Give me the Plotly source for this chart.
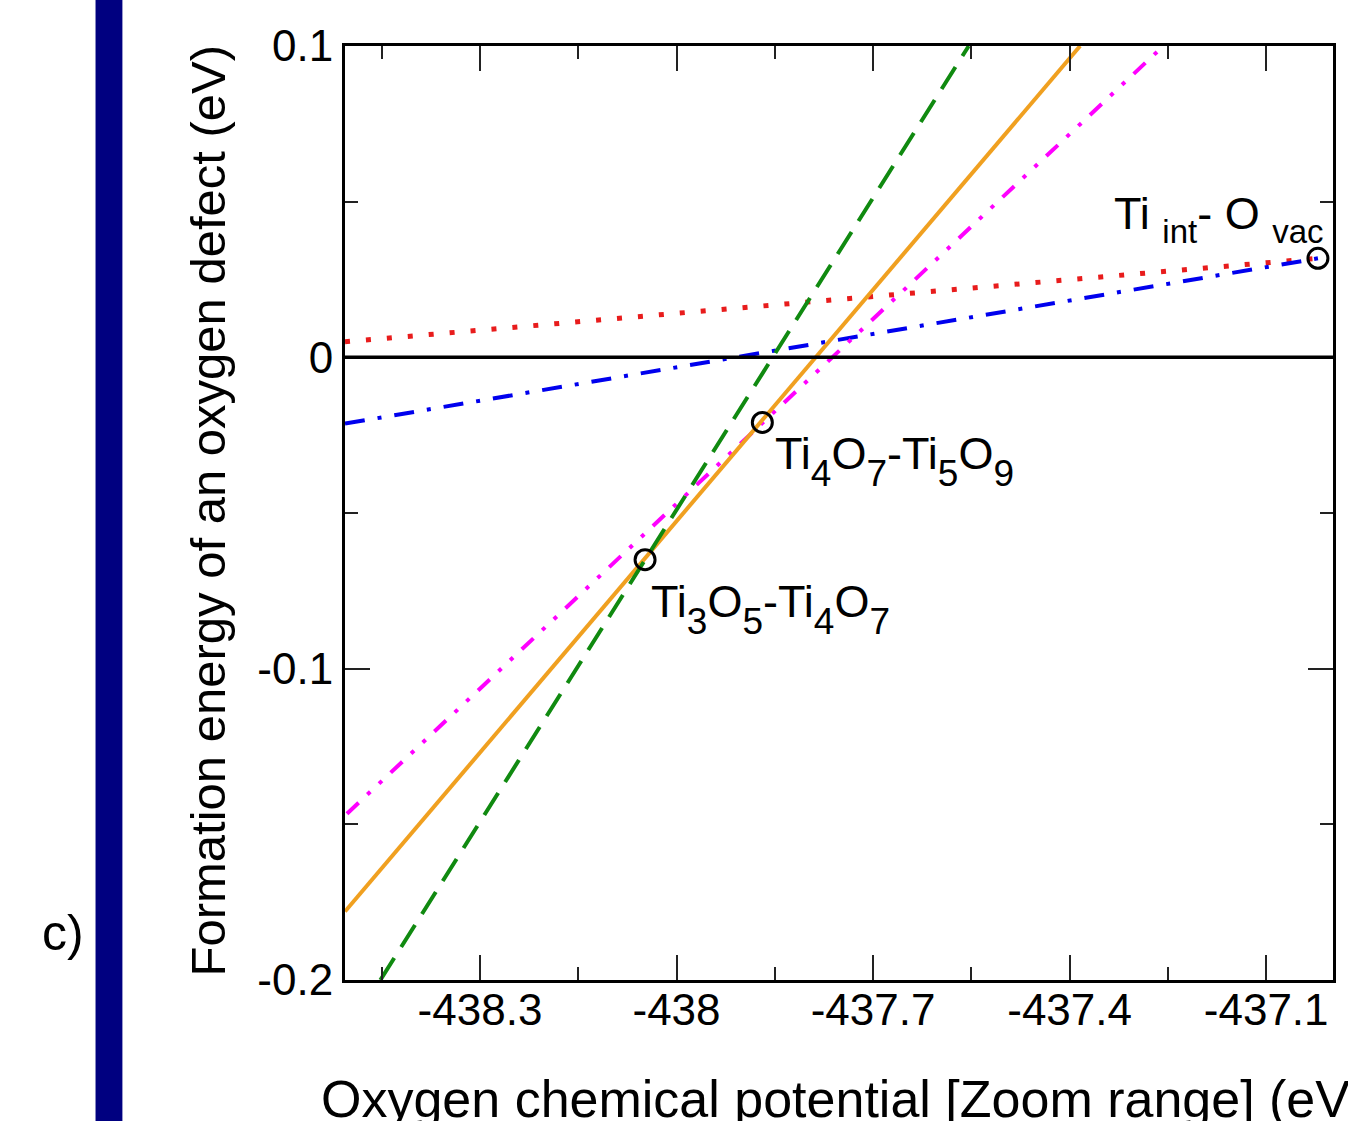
import plotly.graph_objects as go

# ---- data ----
mu_green = [-438.452, -437.554]
E_green = [-0.2, 0.1]
mu_orange = [-438.506, -437.384]
E_orange = [-0.178, 0.1]
mu_magenta = [-438.503, -437.257]
E_magenta = [-0.1466, 0.1]
mu_red = [-438.506, -437.021]
E_red = [0.0050, 0.0318]
mu_blue = [-438.506, -437.021]
E_blue = [-0.0213, 0.0318]

mu_points = [-438.048, -437.869, -437.021]
E_points = [-0.065, -0.0209, 0.0318]

S = '<sub><span style="font-size:37px;baseline-shift:-8px">{}</span></sub>'
S2 = '<sub><span style="font-size:33px;baseline-shift:-5px">{}</span></sub>'
point_labels = ["Ti" + S.format("3") + "O" + S.format("5") + "-Ti" + S.format("4") + "O" + S.format("7"),
                "Ti" + S.format("4") + "O" + S.format("7") + "-Ti" + S.format("5") + "O" + S.format("9"),
                "Ti " + S2.format("int") + "- O " + S2.format("vac")]

x_tickvals = [-438.3, -438.0, -437.7, -437.4, -437.1]
x_ticktext = ["-438.3", "-438", "-437.7", "-437.4", "-437.1"]
x_minorvals = [-438.45, -438.15, -437.85, -437.55, -437.25]
y_tickvals = [0.1, 0.0, -0.1, -0.2]
y_ticktext = ["0.1", "0", "-0.1", "-0.2"]
y_minorvals = [0.05, -0.05, -0.15]

x_range = [-438.506, -436.998]
y_range = [-0.2, 0.1]

FONT = "Liberation Sans, Arial, Helvetica, sans-serif"
LW = 4

fig = go.Figure()
fig.add_trace(go.Scatter(x=mu_red, y=E_red, mode="lines",
                         line=dict(color="#e81c1c", width=5, dash="5px,16px")))
fig.add_trace(go.Scatter(x=mu_blue, y=E_blue, mode="lines",
                         line=dict(color="#0000ee", width=LW, dash="20px,13px,4px,13px")))
fig.add_trace(go.Scatter(x=mu_magenta, y=E_magenta, mode="lines",
                         line=dict(color="#ff00ff", width=LW,
                                   dash="16px,12px,4px,12px,4px,12px")))
fig.add_trace(go.Scatter(x=mu_orange, y=E_orange, mode="lines",
                         line=dict(color="#f0a020", width=LW)))
fig.add_trace(go.Scatter(x=mu_green, y=E_green, mode="lines",
                         line=dict(color="#108a10", width=LW, dash="26px,13px")))
fig.add_trace(go.Scatter(x=mu_points, y=E_points, mode="markers",
                         marker=dict(symbol="circle-open", size=20, color="black",
                                     line=dict(width=3, color="black"))))

# labels next to the markers (offsets in pixels)
offsets = [(4, -14), (11, -4), (-206, 72)]
for (mx, my, lab, (dx, dy)) in zip(mu_points, E_points, point_labels, offsets):
    fig.add_annotation(x=mx, y=my, xref="x", yref="y", text=lab, showarrow=False,
                       xanchor="left", yanchor="top", xshift=dx, yshift=dy,
                       font=dict(family=FONT, size=45, color="black"))

axis_common = dict(showline=True, linecolor="black", linewidth=3, mirror="ticks",
                   ticks="inside", ticklen=25, tickwidth=2, tickcolor="#222222",
                   showgrid=False, zeroline=False,
                   tickfont=dict(family=FONT, size=44, color="black"))

fig.update_xaxes(range=x_range, tickmode="array", tickvals=x_tickvals, ticktext=x_ticktext,
                 minor=dict(tickmode="array", tickvals=x_minorvals, ticks="inside",
                            ticklen=13, tickwidth=2, tickcolor="#222222"),
                 ticklabelstandoff=-11, **axis_common)
fig.update_yaxes(range=y_range, tickmode="array", tickvals=y_tickvals, ticktext=y_ticktext,
                 minor=dict(tickmode="array", tickvals=y_minorvals, ticks="inside",
                            ticklen=13, tickwidth=2, tickcolor="#222222"),
                 ticklabelstandoff=0, **axis_common)

# zero line
fig.add_shape(type="line", xref="paper", yref="y", x0=0, x1=1, y0=0, y1=0,
              line=dict(color="black", width=3.5))

# navy side bar
fig.add_shape(type="rect", xref="paper", yref="paper", x0=-0.2525, x1=-0.2253,
              y0=-0.2, y1=1.1, fillcolor="#000080", line=dict(width=0), layer="above")

# axis titles
fig.add_annotation(text="Oxygen chemical potential [Zoom range] (eV)", xref="paper", yref="paper",
                   x=-0.0263, y=-0.127, xanchor="left", yanchor="middle", showarrow=False,
                   font=dict(family=FONT, size=52, color="black"))
fig.add_annotation(text="Formation energy of an oxygen defect (eV)", xref="paper", yref="paper",
                   x=-0.1384, y=0.503, xanchor="center", yanchor="middle", showarrow=False,
                   textangle=-90, font=dict(family=FONT, size=49, color="black"))
fig.add_annotation(text="c)", xref="paper", yref="paper", x=-0.285, y=0.05,
                   xanchor="center", yanchor="middle", showarrow=False,
                   font=dict(family=FONT, size=50, color="black"))

fig.update_layout(width=1348, height=1121, showlegend=False,
                  margin=dict(l=345, r=13, t=46, b=141, pad=0),
                  plot_bgcolor="white", paper_bgcolor="white")

fig.write_html("out.html", config={"displayModeBar": False},
               post_script="document.body.style.margin='0';document.body.style.overflow='hidden';")
